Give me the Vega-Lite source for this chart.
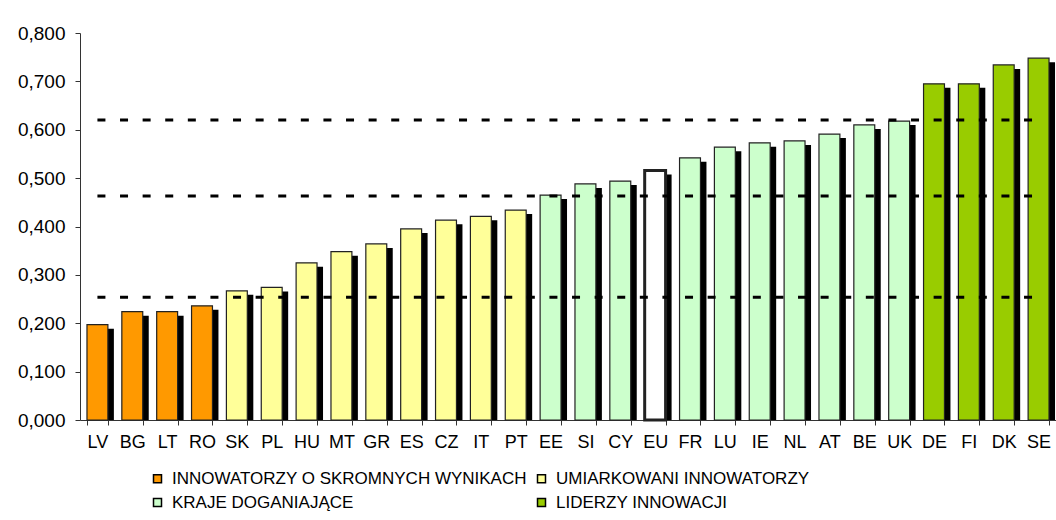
{
  "$schema": "https://vega.github.io/schema/vega-lite/v6.json",
  "width": 976,
  "height": 387,
  "autosize": {"type": "none"},
  "padding": {"left": 80, "top": 33, "right": 0, "bottom": 100},
  "background": "white",
  "config": {
    "view": {"stroke": null},
    "font": "Liberation Sans"
  },
  "data": {
    "values": [
      {"country": "LV", "value": 0.197, "group": "INNOWATORZY O SKROMNYCH WYNIKACH"},
      {"country": "BG", "value": 0.224, "group": "INNOWATORZY O SKROMNYCH WYNIKACH"},
      {"country": "LT", "value": 0.224, "group": "INNOWATORZY O SKROMNYCH WYNIKACH"},
      {"country": "RO", "value": 0.236, "group": "INNOWATORZY O SKROMNYCH WYNIKACH"},
      {"country": "SK", "value": 0.267, "group": "UMIARKOWANI INNOWATORZY"},
      {"country": "PL", "value": 0.274, "group": "UMIARKOWANI INNOWATORZY"},
      {"country": "HU", "value": 0.325, "group": "UMIARKOWANI INNOWATORZY"},
      {"country": "MT", "value": 0.348, "group": "UMIARKOWANI INNOWATORZY"},
      {"country": "GR", "value": 0.364, "group": "UMIARKOWANI INNOWATORZY"},
      {"country": "ES", "value": 0.395, "group": "UMIARKOWANI INNOWATORZY"},
      {"country": "CZ", "value": 0.413, "group": "UMIARKOWANI INNOWATORZY"},
      {"country": "IT", "value": 0.421, "group": "UMIARKOWANI INNOWATORZY"},
      {"country": "PT", "value": 0.434, "group": "UMIARKOWANI INNOWATORZY"},
      {"country": "EE", "value": 0.465, "group": "KRAJE DOGANIAJĄCE"},
      {"country": "SI", "value": 0.488, "group": "KRAJE DOGANIAJĄCE"},
      {"country": "CY", "value": 0.494, "group": "KRAJE DOGANIAJĄCE"},
      {"country": "EU", "value": 0.516, "group": "EU"},
      {"country": "FR", "value": 0.542, "group": "KRAJE DOGANIAJĄCE"},
      {"country": "LU", "value": 0.564, "group": "KRAJE DOGANIAJĄCE"},
      {"country": "IE", "value": 0.573, "group": "KRAJE DOGANIAJĄCE"},
      {"country": "NL", "value": 0.577, "group": "KRAJE DOGANIAJĄCE"},
      {"country": "AT", "value": 0.591, "group": "KRAJE DOGANIAJĄCE"},
      {"country": "BE", "value": 0.610, "group": "KRAJE DOGANIAJĄCE"},
      {"country": "UK", "value": 0.618, "group": "KRAJE DOGANIAJĄCE"},
      {"country": "DE", "value": 0.695, "group": "LIDERZY INNOWACJI"},
      {"country": "FI", "value": 0.695, "group": "LIDERZY INNOWACJI"},
      {"country": "DK", "value": 0.734, "group": "LIDERZY INNOWACJI"},
      {"country": "SE", "value": 0.748, "group": "LIDERZY INNOWACJI"}
    ]
  },
  "encoding": {
    "x": {
      "field": "country",
      "type": "nominal",
      "sort": null,
      "scale": {"paddingInner": 0.4, "paddingOuter": 0.2},
      "axis": {
        "title": null,
        "labelAngle": 0,
        "tickBand": "extent",
        "tickSize": 5,
        "labelFontSize": 18,
        "labelFont": "Liberation Sans",
        "labelColor": "black",
        "labelPadding": 8,
        "domainColor": "#333333",
        "tickColor": "#333333",
        "grid": false
      }
    },
    "y": {
      "field": "value",
      "type": "quantitative",
      "stack": null,
      "scale": {"domain": [0, 0.8], "nice": false},
      "axis": {
        "title": null,
        "values": [0, 0.1, 0.2, 0.3, 0.4, 0.5, 0.6, 0.7, 0.8],
        "labelExpr": "replace(format(datum.value, '.3f'), '.', ',')",
        "grid": false,
        "tickSize": 5,
        "labelFontSize": 19,
        "labelFont": "Liberation Sans",
        "labelColor": "black",
        "labelPadding": 10,
        "domainColor": "#333333",
        "tickColor": "#333333"
      }
    }
  },
  "layer": [
    {
      "mark": {"type": "bar", "color": "black", "xOffset": 6, "yOffset": 4, "y2Offset": 0},
      "encoding": {"y2": {"datum": 0}}
    },
    {
      "mark": {"type": "bar", "stroke": "#222222"},
      "encoding": {
        "fill": {
          "field": "group",
          "type": "nominal",
          "scale": {
            "domain": ["INNOWATORZY O SKROMNYCH WYNIKACH", "KRAJE DOGANIAJĄCE", "UMIARKOWANI INNOWATORZY", "LIDERZY INNOWACJI", "EU"],
            "range": ["#FF9900", "#CCFFCC", "#FFFF99", "#99CC00", "#FFFFFF"]
          },
          "legend": {
            "values": ["INNOWATORZY O SKROMNYCH WYNIKACH", "KRAJE DOGANIAJĄCE", "UMIARKOWANI INNOWATORZY", "LIDERZY INNOWACJI"],
            "title": null,
            "orient": "none",
            "legendX": 69,
            "legendY": 437,
            "columns": 2,
            "symbolType": "square",
            "symbolSize": 64,
            "symbolStrokeColor": "black",
            "symbolStrokeWidth": 1.5,
            "symbolOpacity": 1,
            "labelFontSize": 17,
            "labelFont": "Liberation Sans",
            "labelColor": "black",
            "labelLimit": 0,
            "columnPadding": 6,
            "rowPadding": 6,
            "labelOffset": 6
          }
        },
        "strokeWidth": {
          "condition": {"test": "datum.country === 'EU'", "value": 3},
          "value": 1.2
        }
      }
    },
    {
      "data": {"values": [{"level": 0.620}, {"level": 0.463}, {"level": 0.254}]},
      "mark": {"type": "rule", "color": "black", "strokeWidth": 3, "strokeDash": [8, 14.6]},
      "encoding": {
        "y": {"field": "level", "type": "quantitative"},
        "x": {"datum": "LV"},
        "x2": {"datum": "SE"}
      }
    }
  ]
}
